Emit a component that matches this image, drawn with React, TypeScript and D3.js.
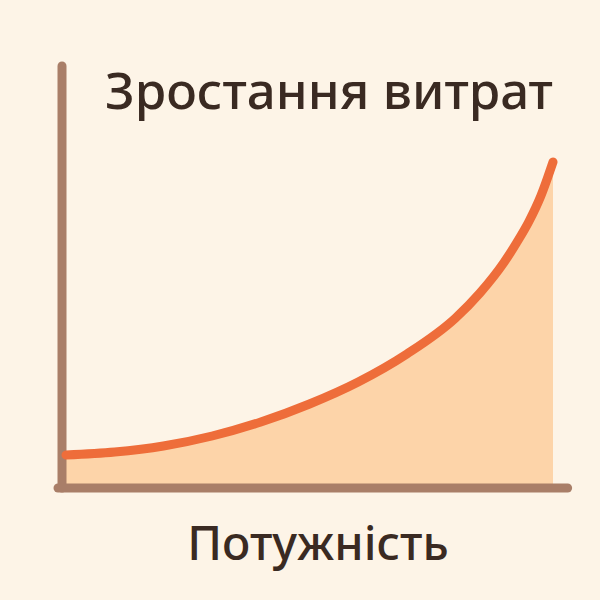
import React, { useEffect, useRef } from 'react';
import * as d3 from 'd3';

// power steps and matching cost
const power = [0, 1, 2, 3, 4, 5, 6, 7, 8, 8.5, 9, 9.25, 9.5, 9.75, 10];
const cost = [7.25, 8, 9.5, 12, 15.5, 20, 25.5, 32.5, 41.5, 47.75, 55.5, 60.25, 65.5, 72, 80.5];

const title = 'Зростання витрат';
const xLabel = 'Потужність';

const App: React.FC = () => {
  const chartRef = useRef<SVGSVGElement>(null);

  useEffect(() => {
    if (!chartRef.current) return;
    document.body.style.margin = '0';
    const width = 600;
    const height = 600;

    const svg = d3.select(chartRef.current);
    svg.selectAll('*').remove();
    svg.attr('width', width).attr('height', height);

    svg.append('rect').attr('width', width).attr('height', height).attr('fill', '#FDF4E7');

    const x = d3.scaleLinear().domain([0, 10]).range([66, 553]);
    const y = d3.scaleLinear().domain([0, 100]).range([484, 84]);

    const data = power.map((p, i) => ({ p, c: cost[i] }));

    const area = d3
      .area<{ p: number; c: number }>()
      .x((d) => x(d.p))
      .y0(y(0))
      .y1((d) => y(d.c))
      .curve(d3.curveMonotoneX);

    const line = d3
      .line<{ p: number; c: number }>()
      .x((d) => x(d.p))
      .y((d) => y(d.c))
      .curve(d3.curveMonotoneX);

    svg.append('path').attr('d', area(data)).attr('fill', '#FDD4A9');

    // axes
    const axisColor = '#A97E68';
    svg
      .append('line')
      .attr('x1', 62)
      .attr('x2', 62)
      .attr('y1', y(104.5))
      .attr('y2', y(-1))
      .attr('stroke', axisColor)
      .attr('stroke-width', 9)
      .attr('stroke-linecap', 'round');
    svg
      .append('line')
      .attr('x1', 58)
      .attr('x2', x(10.3))
      .attr('y1', 488)
      .attr('y2', 488)
      .attr('stroke', axisColor)
      .attr('stroke-width', 9)
      .attr('stroke-linecap', 'round');

    svg
      .append('path')
      .attr('d', line(data))
      .attr('fill', 'none')
      .attr('stroke', '#EE6D3A')
      .attr('stroke-width', 9)
      .attr('stroke-linecap', 'round');

    svg
      .append('text')
      .attr('x', 329)
      .attr('y', 109)
      .attr('text-anchor', 'middle')
      .attr('font-family', 'Noto Sans, sans-serif')
      .attr('font-size', 51)
      .attr('font-weight', 500)
      .attr('fill', '#3A2A22')
      .text(title);

    svg
      .append('text')
      .attr('x', 318)
      .attr('y', 560)
      .attr('text-anchor', 'middle')
      .attr('font-family', 'Noto Sans, sans-serif')
      .attr('font-size', 47)
      .attr('font-weight', 500)
      .attr('fill', '#3A2A22')
      .text(xLabel);
  }, []);

  return <svg ref={chartRef} style={{ display: 'block' }}></svg>;
};

export default App;
